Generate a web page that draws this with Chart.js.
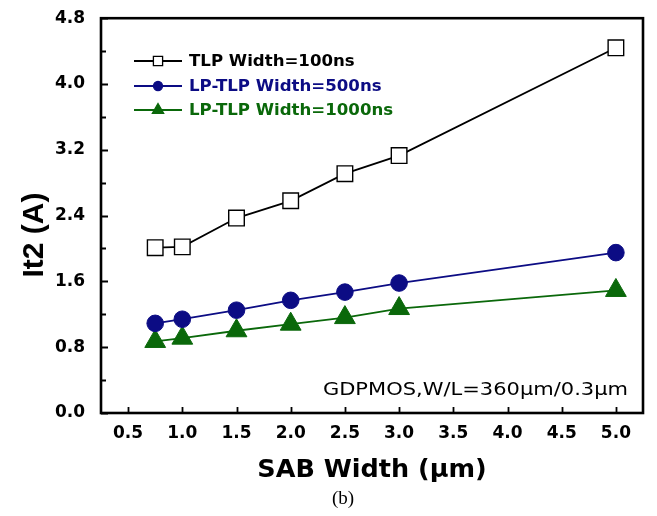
<!DOCTYPE html>
<html>
<head>
<meta charset="utf-8">
<script src="https://cdn.jsdelivr.net/npm/chart.js@4"></script>
<style>
    html, body { margin: 0; padding: 0; background: #fff; }
    #wrap { width: 657px; height: 516px; position: relative; }
</style>
</head>
<body>
<div id="wrap"><canvas id="chart"></canvas></div>
<script>
// SAB width (um)
const sabWidth = [0.75, 1.0, 1.5, 2.0, 2.5, 3.0, 5.0];
// It2 (A) per pulse width
const tlp100 = [2.01, 2.02, 2.37, 2.58, 2.91, 3.13, 4.44];
const lp500 = [1.09, 1.14, 1.25, 1.37, 1.47, 1.58, 1.95];
const lp1000 = [0.87, 0.91, 1.0, 1.08, 1.16, 1.27, 1.49];

const seriesNames = ['TLP Width=100ns', 'LP-TLP Width=500ns', 'LP-TLP Width=1000ns'];
const xTicks = [0.5, 1.0, 1.5, 2.0, 2.5, 3.0, 3.5, 4.0, 4.5, 5.0];
const yTicks = [0, 0.8, 1.6, 2.4, 3.2, 4.0, 4.8];
const yMinorTicks = [0.4, 1.2, 2.0, 2.8, 3.6, 4.4];

const toPoints = (ys) => ys.map((y, i) => ({ x: sabWidth[i], y }));

const NAVY = '#0c0c84';
const GREEN = '#0a680a';

const tickFont = { family: 'DejaVu Sans', size: 17, weight: 'bold' };

// frame, inward ticks, legend and text
const decorPlugin = {
    id: 'decor',
    afterDraw(chart) {
        const { ctx, chartArea } = chart;
        const { left, right, top, bottom } = chartArea;
        const xs = chart.scales.x;
        const ys = chart.scales.y;

        ctx.save();
        ctx.strokeStyle = '#000';
        ctx.lineWidth = 1.8;
        ctx.beginPath();
        xTicks.forEach((v) => {
            const px = Math.round(xs.getPixelForValue(v)) + 0.5;
            ctx.moveTo(px, bottom);
            ctx.lineTo(px, bottom - 6);
        });
        yTicks.forEach((v) => {
            const py = Math.round(ys.getPixelForValue(v)) + 0.5;
            ctx.moveTo(left, py);
            ctx.lineTo(left + 7, py);
        });
        yMinorTicks.forEach((v) => {
            const py = Math.round(ys.getPixelForValue(v)) + 0.5;
            ctx.moveTo(left, py);
            ctx.lineTo(left + 5, py);
        });
        ctx.stroke();

        ctx.lineWidth = 2.6;
        ctx.strokeRect(left, top, right - left, bottom - top);

        // legend
        const rows = [
            { text: seriesNames[0], color: '#000', style: 'rect', r: 6.5, fill: '#fff', y: 61 },
            { text: seriesNames[1], color: NAVY, style: 'circle', r: 4.5, fill: NAVY, y: 86 },
            { text: seriesNames[2], color: GREEN, style: 'triangle', r: 6.5, fill: GREEN, y: 110 },
        ];
        rows.forEach((row) => {
            ctx.strokeStyle = row.color;
            ctx.lineWidth = 2;
            ctx.beginPath();
            ctx.moveTo(134, row.y);
            ctx.lineTo(182, row.y);
            ctx.stroke();
            ctx.fillStyle = row.fill;
            ctx.lineWidth = 1.3;
            Chart.helpers.drawPoint(ctx, { pointStyle: row.style, radius: row.r, rotation: 0, borderWidth: 1.3 }, 158, row.y);
            ctx.fillStyle = row.color;
            ctx.font = 'bold 16.6px "DejaVu Sans"';
            ctx.textAlign = 'left';
            ctx.textBaseline = 'middle';
            ctx.fillText(row.text, 189, row.y + 1);
        });

        // device note
        ctx.fillStyle = '#000';
        ctx.font = '17.5px "DejaVu Sans"';
        ctx.textAlign = 'right';
        ctx.textBaseline = 'alphabetic';
        ctx.save();
        ctx.translate(628, 395);
        ctx.scale(1.2, 1);
        ctx.fillText('GDPMOS,W/L=360\u03bcm/0.3\u03bcm', 0, 0);
        ctx.restore();

        // axis titles
        ctx.font = 'bold 25.5px "DejaVu Sans"';
        ctx.textAlign = 'center';
        ctx.fillText('SAB Width (\u03bcm)', (left + right) / 2, 477);

        ctx.save();
        ctx.translate(43, 235);
        ctx.rotate(-Math.PI / 2);
        ctx.font = 'bold 30px "Liberation Sans"';
        ctx.fillText('It2 (A)', 0, 0);
        ctx.restore();

        ctx.font = '19px "Liberation Serif"';
        ctx.fillText('(b)', 343, 504);
        ctx.restore();
    },
};

new Chart(document.getElementById('chart'), {
    type: 'line',
    data: {
        datasets: [
            {
                label: seriesNames[0],
                data: toPoints(tlp100),
                borderColor: '#000',
                borderWidth: 1.8,
                pointStyle: 'rect',
                pointRadius: 11,
                pointBackgroundColor: '#fff',
                pointBorderColor: '#000',
                pointBorderWidth: 1.4,
            },
            {
                label: seriesNames[1],
                data: toPoints(lp500),
                borderColor: NAVY,
                borderWidth: 1.8,
                pointStyle: 'circle',
                pointRadius: 8.3,
                pointBackgroundColor: NAVY,
                pointBorderColor: NAVY,
                pointBorderWidth: 1,
            },
            {
                label: seriesNames[2],
                data: toPoints(lp1000),
                borderColor: GREEN,
                borderWidth: 1.8,
                pointStyle: 'triangle',
                pointRadius: 12,
                pointBackgroundColor: GREEN,
                pointBorderColor: GREEN,
                pointBorderWidth: 1,
            },
        ],
    },
    options: {
        responsive: true,
        maintainAspectRatio: false,
        animation: false,
        layout: { padding: { left: 0, right: 14, top: 16, bottom: 0 } },
        plugins: {
            legend: { display: false },
            tooltip: { enabled: false },
        },
        scales: {
            x: {
                type: 'linear',
                min: 0.25,
                max: 5.25,
                grid: { display: false },
                border: { display: false },
                afterBuildTicks: (scale) => {
                    scale.ticks = xTicks.map((v) => ({ value: v }));
                },
                afterFit: (scale) => {
                    scale.height = 103;
                },
                ticks: {
                    color: '#000',
                    font: tickFont,
                    padding: 2,
                    maxRotation: 0,
                    callback: (v) => Number(v).toFixed(1),
                },
            },
            y: {
                type: 'linear',
                min: 0,
                max: 4.8,
                grid: { display: false },
                border: { display: false },
                afterBuildTicks: (scale) => {
                    scale.ticks = yTicks.map((v) => ({ value: v }));
                },
                afterFit: (scale) => {
                    scale.width = 101;
                },
                ticks: {
                    color: '#000',
                    font: tickFont,
                    padding: 8,
                    callback: (v) => Number(v).toFixed(1),
                },
            },
        },
    },
    plugins: [decorPlugin],
});
</script>
</body>
</html>
